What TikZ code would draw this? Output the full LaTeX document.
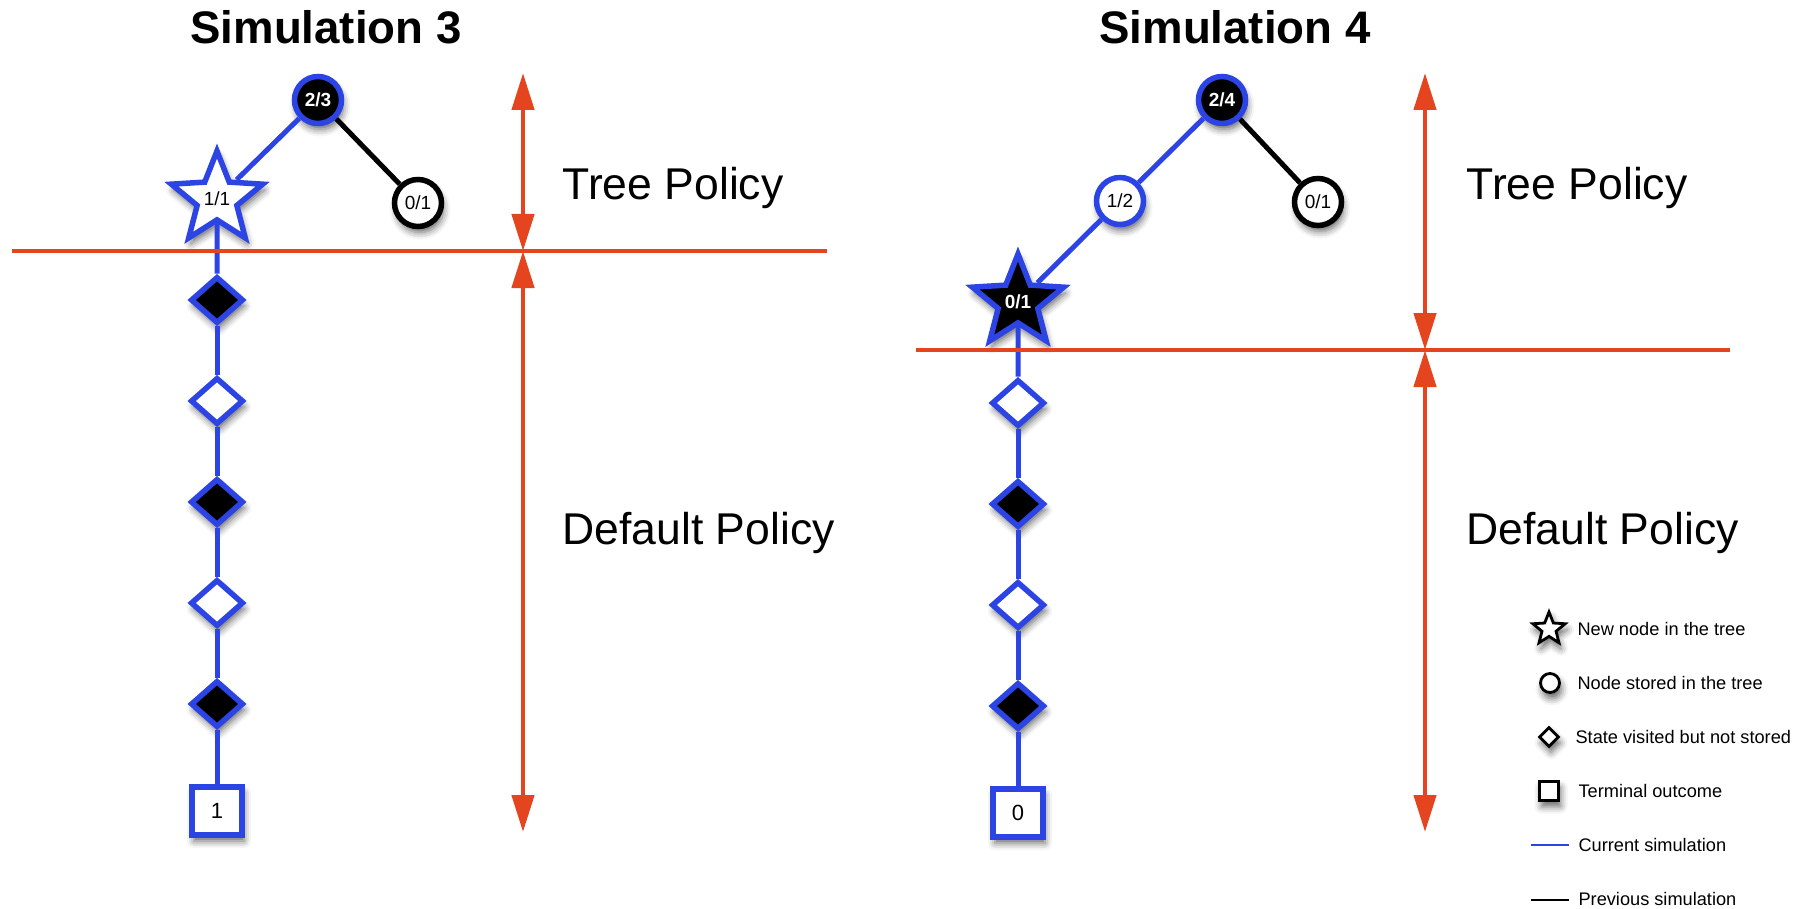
\documentclass[tikz,border=0pt]{standalone}
\usepackage{fontspec}
\setmainfont{Liberation Sans}
\usepackage{tikz}
\usetikzlibrary{arrows.meta,positioning,shapes.geometric,shadows.blur}
\definecolor{simblue}{HTML}{2B44E3}
\definecolor{polred}{HTML}{E4441E}
\newcommand{\nodefont}{\fontsize{19}{21}\selectfont}
\newcommand{\polfont}{\fontsize{44.5}{50}\selectfont}
\newcommand{\legfont}{\fontsize{18.2}{20}\selectfont}
\tikzset{shade/.style={blur shadow={shadow xshift=2pt,shadow yshift=-6pt,shadow blur radius=7pt,shadow opacity=60}},
treenode/.style={circle,draw=simblue,fill=white,line width=5.5pt,minimum size=47pt,inner sep=0pt,font=\nodefont,shade},
newnode/.style={star,star points=5,star point ratio=2.3,draw=simblue,fill=white,line width=5.5pt,minimum size=96pt,inner sep=0pt,font=\nodefont,shade},
diam/.style={diamond,draw=simblue,line width=5.5pt,minimum width=53pt,minimum height=47pt,inner sep=0pt,shade},
term/.style={rectangle,draw=simblue,fill=white,line width=5.5pt,minimum width=50pt,minimum height=48pt,inner sep=0pt,font=\fontsize{22}{24}\selectfont,shade},
policy/.style={anchor=base west,font=\polfont},
legtext/.style={anchor=west,font=\legfont}}

\begin{document}
\begin{tikzpicture}[x=1pt,y=-1pt,
cur/.style={draw=simblue,line width=5pt},
prev/.style={draw=black,line width=5pt},
pol/.style={draw=polred,line width=4.5pt,{Triangle[length=37pt,width=22pt]}-{Triangle[length=37pt,width=22pt]}},
cut/.style={draw=polred,line width=4pt}]
\useasboundingbox (0,0) rectangle (1806,909);
% Simulation 3
\node[anchor=base,font=\fontsize{45.6}{50}\selectfont\bfseries] (t3) at (326,44) {Simulation 3};
\node[treenode,fill=black,text=white,font=\nodefont\bfseries] (root3) at (318,100) {2/3};
\node[newnode] (new3) at (217,199) {1/1};
\node[treenode,draw=black] (old3) at (418,203) {0/1};
\foreach \i/\f in {1/black,2/white,3/black,4/white,5/black}{
  \node[diam,fill=\f] (d3\i) at (217,{199+101*\i}) {};
}
\node[term] (term3) at (217,811) {1};
\draw[cur] (root3)--(new3);
\draw[prev] (root3)--(old3);
\draw[cur] (new3)--(d31);
\foreach \a/\b in {d31/d32,d32/d33,d33/d34,d34/d35,d35/term3}{\draw[cur] (\a)--(\b);}
\coordinate (cutL3) at (12,251);
\coordinate (cutR3) at (827,251);
\coordinate (tp3) at (523,73);
\coordinate (mid3) at (523,251);
\coordinate (dp3) at (523,832);
\draw[cut] (cutL3)--(cutR3);
\draw[pol] (tp3)--(mid3);
\draw[pol] (mid3)--(dp3);
\node[policy] (tree3) at (559,200) {Tree Policy};
\node[policy] (def3) at (559,544) {Default Policy};
% Simulation 4
\node[anchor=base,font=\fontsize{45.6}{50}\selectfont\bfseries] (t4) at (1235,44) {Simulation 4};
\node[treenode,fill=black,text=white,font=\nodefont\bfseries] (root4) at (1222,100) {2/4};
\node[treenode] (mid4) at (1120,201) {1/2};
\node[treenode,draw=black] (old4) at (1318,202) {0/1};
\node[newnode,fill=black,text=white,font=\nodefont\bfseries] (new4) at (1018,302) {0/1};
\foreach \i/\f in {1/white,2/black,3/white,4/black}{
  \node[diam,fill=\f] (d4\i) at (1018,{302+101*\i}) {};
}
\node[term] (term4) at (1018,813) {0};
\draw[cur] (root4)--(mid4);
\draw[cur] (mid4)--(new4);
\draw[prev] (root4)--(old4);
\draw[cur] (new4)--(d41);
\foreach \a/\b in {d41/d42,d42/d43,d43/d44,d44/term4}{\draw[cur] (\a)--(\b);}
\coordinate (cutL4) at (916,350);
\coordinate (cutR4) at (1730,350);
\coordinate (tp4) at (1425,73);
\coordinate (mid4c) at (1425,350);
\coordinate (dp4) at (1425,832);
\draw[cut] (cutL4)--(cutR4);
\draw[pol] (tp4)--(mid4c);
\draw[pol] (mid4c)--(dp4);
\node[policy] (tree4) at (1463,200) {Tree Policy};
\node[policy] (def4) at (1463,544) {Default Policy};
% legend
\node[star,star points=5,star point ratio=2.3,draw,fill=white,line width=2.8pt,minimum size=34pt,inner sep=0pt,shade] (lgstar) at (1549,629) {};
\node[circle,draw,fill=white,line width=2.8pt,minimum size=19pt,inner sep=0pt,shade] (lgcirc) at (1550,683) {};
\node[diamond,draw,fill=white,line width=2.8pt,minimum size=20pt,inner sep=0pt,shade] (lgdiam) at (1549,737) {};
\node[rectangle,draw,fill=white,line width=3.8pt,minimum size=19pt,inner sep=0pt,shade] (lgterm) at (1549,791) {};
\coordinate (lgcurA) at (1531,845);
\coordinate (lgcurB) at (1569,845);
\coordinate (lgprvA) at (1531,900);
\coordinate (lgprvB) at (1569,900);
\draw[draw=simblue,line width=2.8pt] (lgcurA)--(lgcurB);
\draw[draw=black,line width=2.8pt] (lgprvA)--(lgprvB);
\node[legtext] (lt1) at (1574,629) {New node in the tree};
\node[legtext] (lt2) at (1574,683) {Node stored in the tree};
\node[legtext] (lt3) at (1572,737) {State visited but not stored};
\node[legtext] (lt4) at (1575,791) {Terminal outcome};
\node[legtext] (lt5) at (1575,845) {Current simulation};
\node[legtext] (lt6) at (1575,899) {Previous simulation};
\end{tikzpicture}
\end{document}
